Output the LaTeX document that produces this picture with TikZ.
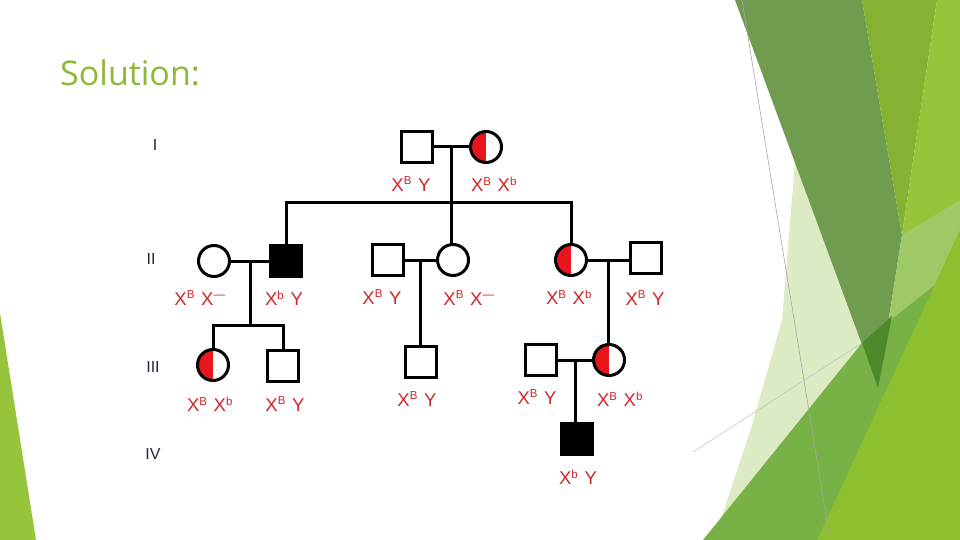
\documentclass[tikz,border=0pt]{standalone}
\usepackage{fontspec}
\setmainfont{Liberation Sans}
\newfontfamily\titlefont{Open Sans}
\usetikzlibrary{calc}
\definecolor{fillred}{HTML}{E8161C}
\definecolor{labred}{HTML}{D0262C}
\definecolor{titlegreen}{HTML}{8DB83A}
\definecolor{gennavy}{HTML}{1E2638}
\definecolor{gDark}{HTML}{6F9C4E}
\definecolor{gOlive}{HTML}{86B232}
\definecolor{gLight}{HTML}{96C43B}
\definecolor{gPale}{HTML}{DDEBC5}
\definecolor{gMed}{HTML}{78B145}
\definecolor{gYel}{HTML}{8DBF2F}
\definecolor{gDeep}{HTML}{4F8A2A}
\definecolor{gMid}{HTML}{9FC866}
\tikzset{
  male/.style={draw=black, line width=3pt, minimum size=31pt, inner sep=0pt, fill=white},
  maleaff/.style={male, fill=black},
  female/.style={circle, draw=black, line width=3pt, minimum size=31pt, inner sep=0pt, fill=white},
  carrier/.style={female, path picture={\fill[fillred] (path picture bounding box.north) rectangle (path picture bounding box.south west);}},
  link/.style={line width=3pt, draw=black},
  geno/.style={text=labred, font=\fontsize{18.5}{20}\selectfont, inner sep=1pt},
  gen/.style={text=gennavy, font=\fontsize{16}{18}\selectfont, inner sep=1pt}
}
\newcommand{\sps}[1]{\textsuperscript{\fontsize{11.5}{12}\selectfont #1}}
\newcommand{\gt}[2]{X\sps{#1}\,\,#2}
\begin{document}
\begin{tikzpicture}[x=1pt,y=-1pt]
\useasboundingbox (0,0) rectangle (960,540);
\fill[white] (0,0) rectangle (960,540);
% background facets
\fill[gPale] (798,125) -- (880,390) -- (735,540) -- (714,540) -- (752,425) -- (782,320) -- cycle;
\fill[gDark] (735,0) -- (862,0) -- (902,235) -- (878,388) -- cycle;
\fill[gOlive] (862,0) -- (937,0) -- (902,235) -- cycle;
\fill[gLight] (937,0) -- (960,0) -- (960,540) -- (880,400) -- (902,235) -- cycle;
\fill[gMid] (902,235) -- (960,200) -- (960,300) -- (878,388) -- cycle;
\fill[gMed] (703,540) -- (862,343) -- (960,265) -- (960,540) -- cycle;
\fill[gYel] (817,540) -- (960,230) -- (960,540) -- cycle;
\fill[gDeep] (862,343) -- (892,316) -- (878,388) -- cycle;
\fill[gLight] (0,313) -- (36,540) -- (0,540) -- cycle;
\draw[gray!70, line width=0.6pt] (742,0) -- (830,540);
\draw[gray!50, line width=0.5pt] (693,452) -- (862,343);
% title
\node[anchor=base west, text=titlegreen, font=\titlefont\fontsize{34}{40}\selectfont, inner sep=0pt] (title) at (60,86) {Solution:};
% generation labels
\node[gen] (gI) at (155,145) {I};
\node[gen] (gII) at (151,259) {II};
\node[gen] (gIII) at (153,367) {III};
\node[gen] (gIV) at (153,454) {IV};
% individuals
\node[male] (a1) at (417,147) {};
\node[carrier] (a2) at (486,147) {};
\node[female] (b1) at (214,261) {};
\node[maleaff] (b2) at (286,261) {};
\node[male] (b3) at (388,260) {};
\node[female] (b4) at (453,260) {};
\node[carrier] (b5) at (571,260) {};
\node[male] (b6) at (646,258) {};
\node[carrier] (c1) at (213,365) {};
\node[male] (c2) at (283,366) {};
\node[male] (c3) at (421,362) {};
\node[male] (c4) at (541,360) {};
\node[carrier] (c5) at (609,360) {};
\node[maleaff] (d1) at (577,439) {};
% connectors
\coordinate (s1) at (0,202);
\coordinate (s2) at (0,325);
\draw[link] (a1.east) -- (a1.east -| a2.west);
\coordinate (m1) at ($(a1.east)!0.5!(a2.west)$);
\draw[link] (m1) -- (m1 |- b4.north);
\draw[link] ([xshift=-1.5pt]b2.north |- s1) -- ([xshift=1.5pt]b5.north |- s1);
\draw[link] (b2.north |- s1) -- (b2.north);
\draw[link] (b5.north |- s1) -- (b5.north);
\draw[link] (b1.east) -- (b1.east -| b2.west);
\coordinate (m2) at ($(b1.east)!0.5!(b2.west)$);
\draw[link] (m2) -- (m2 |- s2);
\draw[link] ([xshift=-1.5pt]c1.north |- s2) -- ([xshift=1.5pt]c2.north |- s2);
\draw[link] (c1.north |- s2) -- (c1.north);
\draw[link] (c2.north |- s2) -- (c2.north);
\draw[link] (b3.east) -- (b3.east -| b4.west);
\coordinate (m3) at ($(b3.east)!0.5!(b4.west)$);
\draw[link] (m3) -- (m3 |- c3.north);
\draw[link] (b5.east) -- (b5.east -| b6.west);
\coordinate (m4) at ($(b5.east)!0.5!(b6.west)$);
\draw[link] (m4 |- b5.east) -- (m4 |- c5.north);
\draw[link] (c4.east) -- (c4.east -| c5.west);
\coordinate (m5) at ($(c4.east)!0.5!(c5.west)$);
\draw[link] (m5) -- (m5 |- d1.north);
% genotype labels
\node[geno] (la1) at (411,184) {\gt{B}{Y}};
\node[geno] (la2) at (494,184) {\gt{B}{X\sps{b}}};
\node[geno] (lb1) at (200,298) {\gt{B}{X\sps{—}}};
\node[geno] (lb2) at (284,298) {\gt{b}{Y}};
\node[geno] (lb3) at (382,297) {\gt{B}{Y}};
\node[geno] (lb4) at (469,298) {\gt{B}{X\sps{—}}};
\node[geno] (lb5) at (569,297) {\gt{B}{X\sps{b}}};
\node[geno] (lb6) at (645,298) {\gt{B}{Y}};
\node[geno] (lc1) at (210,404) {\gt{B}{X\sps{b}}};
\node[geno] (lc2) at (285,404) {\gt{B}{Y}};
\node[geno] (lc3) at (417,399) {\gt{B}{Y}};
\node[geno] (lc4) at (537,397) {\gt{B}{Y}};
\node[geno] (lc5) at (620,399) {\gt{B}{X\sps{b}}};
\node[geno] (ld1) at (578,477) {\gt{b}{Y}};
\end{tikzpicture}
\end{document}
